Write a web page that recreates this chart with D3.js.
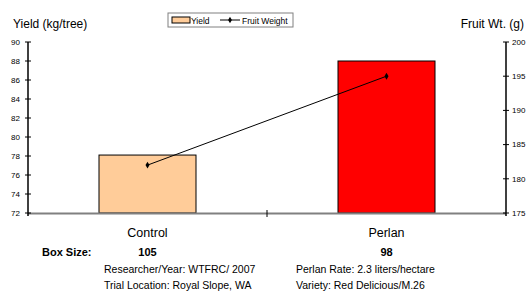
<!DOCTYPE html>
<html>
<head>
<meta charset="utf-8">
<script src="https://cdn.jsdelivr.net/npm/d3@7"></script>
<style>
  body { margin: 0; background: #fff; }
  text { font-family: "Liberation Sans", Arial, sans-serif; fill: #000; }
</style>
</head>
<body>
<div id="chart"></div>
<script>
// data
var categories = ["Control", "Perlan"];
var yieldValues = [78.1, 88];
var fruitWeight = [182, 195];
var boxSize = ["105", "98"];
var yieldTicks = [72, 74, 76, 78, 80, 82, 84, 86, 88, 90];
var weightTicks = [175, 180, 185, 190, 195, 200];
var barColors = ["#ffcc99", "#ff0000"];
var notesLeft = ["Researcher/Year: WTFRC/ 2007", "Trial Location: Royal Slope, WA"];
var notesRight = ["Perlan Rate: 2.3 liters/hectare", "Variety: Red Delicious/M.26"];

// plot area (note: "top" is reserved on window, so use plotTop)
var W = 528, H = 291;
var plotLeft = 28, plotRight = 506, plotTop = 42, plotBottom = 213;

var svg = d3.select("#chart").append("svg")
  .attr("width", W)
  .attr("height", H);

var x = d3.scaleBand().domain(categories).range([plotLeft, plotRight]).paddingInner(0).paddingOuter(0);
var bw = 97;
var y = d3.scaleLinear().domain([72, 90]).range([plotBottom, plotTop]);
var y2 = d3.scaleLinear().domain([175, 200]).range([plotBottom, plotTop]);

// bars
svg.selectAll("rect.bar")
  .data(categories)
  .enter()
  .append("rect")
  .attr("class", "bar")
  .attr("x", function (d) { return x(d) + x.bandwidth() / 2 - bw / 2; })
  .attr("y", function (d, i) { return y(yieldValues[i]); })
  .attr("width", bw)
  .attr("height", function (d, i) { return plotBottom - y(yieldValues[i]); })
  .style("fill", function (d, i) { return barColors[i]; })
  .style("stroke", "#000")
  .style("stroke-width", 1);

// x axis baseline
svg.append("line")
  .attr("x1", plotLeft).attr("x2", plotRight)
  .attr("y1", plotBottom + 0.5).attr("y2", plotBottom + 0.5)
  .style("stroke", "#808080").style("stroke-width", 2);
// category divider tick
svg.append("line")
  .attr("x1", x(categories[1])).attr("x2", x(categories[1]))
  .attr("y1", plotBottom - 3).attr("y2", plotBottom + 4)
  .style("stroke", "#000").style("stroke-width", 1);

// left axis
var gl = svg.append("g").attr("transform", "translate(" + plotLeft + ",0)");
gl.append("line").attr("y1", plotTop).attr("y2", plotBottom + 3)
  .style("stroke", "#000").style("stroke-width", 1.5);
gl.selectAll("line.t").data(yieldTicks).enter().append("line")
  .attr("class", "t")
  .attr("x1", -3).attr("x2", 3)
  .attr("y1", function (d) { return y(d); }).attr("y2", function (d) { return y(d); })
  .style("stroke", "#000");
gl.selectAll("text").data(yieldTicks).enter().append("text")
  .attr("x", -8)
  .attr("y", function (d) { return y(d); })
  .attr("dy", "0.35em")
  .attr("text-anchor", "end")
  .style("font-size", "8px")
  .text(function (d) { return d; });

// right axis
var gr = svg.append("g").attr("transform", "translate(" + plotRight + ",0)");
gr.append("line").attr("y1", plotTop).attr("y2", plotBottom + 3)
  .style("stroke", "#000").style("stroke-width", 1.5);
gr.selectAll("line.t").data(weightTicks).enter().append("line")
  .attr("class", "t")
  .attr("x1", -3).attr("x2", 3)
  .attr("y1", function (d) { return y2(d); }).attr("y2", function (d) { return y2(d); })
  .style("stroke", "#000");
gr.selectAll("text").data(weightTicks).enter().append("text")
  .attr("x", 6)
  .attr("y", function (d) { return y2(d); })
  .attr("dy", "0.35em")
  .style("font-size", "8px")
  .text(function (d) { return d; });

// axis titles
svg.append("text").attr("x", 13).attr("y", 28)
  .style("font-size", "12px").text("Yield (kg/tree)");
svg.append("text").attr("x", 524).attr("y", 28)
  .attr("text-anchor", "end")
  .style("font-size", "12px").text("Fruit Wt. (g)");

// fruit weight line
var line = d3.line()
  .x(function (d, i) { return x(categories[i]) + x.bandwidth() / 2; })
  .y(function (d) { return y2(d); });
svg.append("path")
  .datum(fruitWeight)
  .attr("d", line)
  .style("fill", "none")
  .style("stroke", "#000")
  .style("stroke-width", 1);
svg.selectAll("path.pt")
  .data(fruitWeight)
  .enter()
  .append("path")
  .attr("class", "pt")
  .attr("d", d3.symbol().type(d3.symbolDiamond).size(14))
  .attr("transform", function (d, i) {
    return "translate(" + (x(categories[i]) + x.bandwidth() / 2) + "," + y2(d) + ")";
  })
  .style("fill", "#000");

// category labels
svg.selectAll("text.cat")
  .data(categories)
  .enter()
  .append("text")
  .attr("class", "cat")
  .attr("x", function (d) { return x(d) + x.bandwidth() / 2; })
  .attr("y", 237)
  .attr("text-anchor", "middle")
  .style("font-size", "12.5px")
  .text(function (d) { return d; });

// box size
svg.append("text").attr("x", 42).attr("y", 256)
  .style("font-size", "11px").style("font-weight", "bold").text("Box Size:");
svg.selectAll("text.box")
  .data(boxSize)
  .enter()
  .append("text")
  .attr("class", "box")
  .attr("x", function (d, i) { return x(categories[i]) + x.bandwidth() / 2; })
  .attr("y", 256)
  .attr("text-anchor", "middle")
  .style("font-size", "11px")
  .style("font-weight", "bold")
  .text(function (d) { return d; });

// notes
svg.selectAll("text.nl").data(notesLeft).enter().append("text")
  .attr("class", "nl")
  .attr("x", 104)
  .attr("y", function (d, i) { return 273 + i * 15.5; })
  .style("font-size", "10.5px")
  .text(function (d) { return d; });
svg.selectAll("text.nr").data(notesRight).enter().append("text")
  .attr("class", "nr")
  .attr("x", 296)
  .attr("y", function (d, i) { return 273 + i * 15.5; })
  .style("font-size", "10.5px")
  .text(function (d) { return d; });

// legend
var lg = svg.append("g").attr("transform", "translate(168,13)");
lg.append("rect").attr("width", 125).attr("height", 14)
  .style("fill", "#fff").style("stroke", "#808080").style("stroke-width", 1);
lg.append("rect").attr("x", 4).attr("y", 4).attr("width", 18).attr("height", 6)
  .style("fill", barColors[0]).style("stroke", "#000");
lg.append("text").attr("x", 23).attr("y", 10.5).style("font-size", "8.5px").text("Yield");
lg.append("line").attr("x1", 52).attr("x2", 72).attr("y1", 7).attr("y2", 7)
  .style("stroke", "#000");
lg.append("path").attr("d", d3.symbol().type(d3.symbolDiamond).size(12))
  .attr("transform", "translate(62,7)").style("fill", "#000");
lg.append("text").attr("x", 74).attr("y", 10.5).style("font-size", "8.5px").text("Fruit Weight");
</script>
</body>
</html>
